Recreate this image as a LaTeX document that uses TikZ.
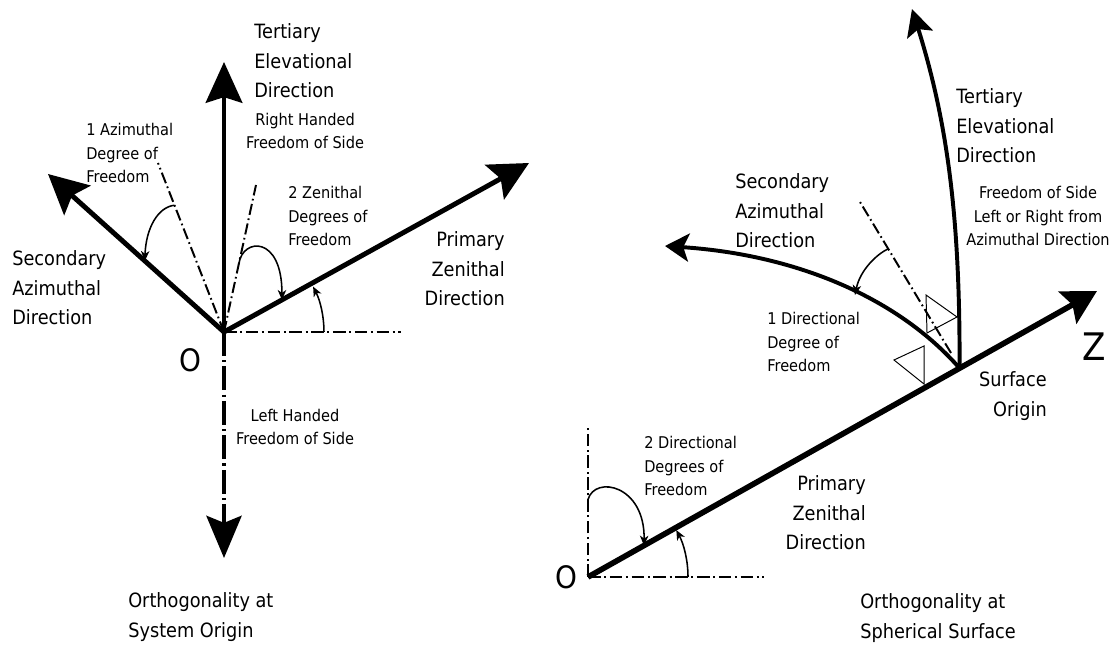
\documentclass[tikz,border=0pt]{standalone}
\usepackage{fontspec}
\setmainfont{DejaVu Sans}[FakeStretch=0.9]
\usetikzlibrary{arrows.meta,positioning}

\begin{document}
\begin{tikzpicture}[x=0.025cm, y=-0.025cm, every node/.style={inner sep=0pt},
  biglbl/.style={font=\fontsize{14}{21}\selectfont, align=left},
  smalllbl/.style={font=\fontsize{11.5}{16.8}\selectfont, align=left},
  originlbl/.style={font=\fontsize{22}{22}\selectfont},
  mainaxis/.style={line width=3.5pt, -{Stealth[length=28pt,width=28pt,inset=5pt]}},
  bentaxis/.style={line width=2.8pt, -{Stealth[length=19pt,width=19pt,inset=4pt]}},
  refline/.style={line width=2pt, dash pattern=on 9pt off 2.5pt on 1.5pt off 2.5pt},
  freeline/.style={line width=1.4pt, dash pattern=on 8pt off 2.5pt on 1.2pt off 2.5pt},
  dofarrow/.style={line width=1.1pt, -{Stealth[length=7pt,width=6pt,inset=2pt]}},
  marker/.style={line width=0.7pt}]
  \useasboundingbox (0,0) rectangle (1117,648);

  % system origin
  \coordinate (o1) at (224,332);
  \coordinate (tert1) at (224,62);
  \coordinate (prim1) at (529,163);
  \coordinate (sec1) at (48,174);
  \coordinate (hor1) at (401,332);
  \coordinate (down1) at (224,558);
  \coordinate (az1) at (158,163);
  \coordinate (zen1) at (256,185);

  \draw[refline] (o1) -- (hor1);
  \draw[line width=2.8pt, dash pattern=on 17pt off 3pt on 1.5pt off 3pt,
    -{Stealth[length=30pt,width=25pt,inset=5pt]}] (o1) -- (down1);
  \draw[freeline] (o1) -- (az1);
  \draw[freeline] (o1) -- (zen1);
  \draw[mainaxis, line width=3pt, -{Stealth[length=29pt,width=26pt,inset=4pt]}] (o1) -- (tert1);
  \draw[mainaxis] (o1) -- (prim1);
  \draw[mainaxis] (o1) -- (sec1);

  \path (o1) -- (az1) coordinate[pos=0.75] (az1s);
  \path (o1) -- (sec1) coordinate[pos=0.45] (sec1s);
  \path (o1) -- (zen1) coordinate[pos=0.47] (zen1s);
  \path (o1) -- (prim1) coordinate[pos=0.19] (prim1s);
  \draw[dofarrow] (az1s) .. controls (158,207) and (146,228) .. (sec1s);
  \draw[dofarrow] (zen1s) .. controls (243,238) and (282,235) .. (prim1s);
  \draw[dofarrow] (o1) ++(100,0) arc[start angle=0, end angle=-27, radius=100];

  \node[biglbl, anchor=west] (tert1lbl) at (254,61) {Tertiary\\Elevational\\Direction};
  \node[smalllbl, align=center] (rh1lbl) at (305,131) {Right Handed\\Freedom of Side};
  \node[smalllbl, anchor=west] (az1lbl) at (86,153) {1 Azimuthal\\Degree of\\Freedom};
  \node[smalllbl, anchor=west] (zen1lbl) at (288,216) {2 Zenithal\\Degrees of\\Freedom};
  \node[biglbl, anchor=east, align=right] (prim1lbl) at (505,269) {Primary\\Zenithal\\Direction};
  \node[biglbl, anchor=west] (sec1lbl) at (12,288) {Secondary\\Azimuthal\\Direction};
  \node[originlbl] (o1lbl) at (190,360) {O};
  \node[smalllbl, align=center] (lh1lbl) at (295,427) {Left Handed\\Freedom of Side};
  \node[biglbl, anchor=west] (orth1lbl) at (128,617) {Orthogonality at\\System Origin};

  % spherical surface
  \coordinate (o2) at (588,577);
  \coordinate (z2) at (1097,291);
  \coordinate (v2) at (588,428);
  \coordinate (hor2) at (764,577);
  \path (o2) -- (z2) coordinate[pos=0.73] (s2);
  \coordinate (tert2) at (912,9);
  \coordinate (sec2) at (665,246);
  \coordinate (az2a) at (951,353);
  \coordinate (az2b) at (860,202);

  \draw[refline, line width=1.8pt] (o2) -- (v2);
  \draw[refline, line width=1.8pt] (o2) -- (hor2);
  \draw[mainaxis, line width=4pt, -{Stealth[length=24pt,width=26pt,inset=4pt]}] (o2) -- (z2);
  \draw[bentaxis] (s2) .. controls (960,230) and (950,130) .. (tert2);
  \draw[bentaxis, -{Stealth[length=17pt,width=20pt,inset=4pt]}] (s2) .. controls (900,300) and (800,255) .. (sec2);
  \draw[freeline] (az2a) -- (az2b);
  \draw[marker] (926,295) -- (957,317) -- (927,333) -- cycle;
  \draw[marker] (894,360) -- (924,346) -- (924,384) -- cycle;

  \path (az2a) -- (az2b) coordinate[pos=0.69] (az2s);
  \path (o2) -- (v2) coordinate[pos=0.52] (v2s);
  \path (o2) -- (z2) coordinate[pos=0.11] (z2s);
  \draw[dofarrow] (az2s) .. controls (877,254) and (860,270) .. (855,295);
  \draw[dofarrow] (v2s) .. controls (595,475) and (645,485) .. (z2s);
  \draw[dofarrow] (o2) ++(100,0) arc[start angle=0, end angle=-28, radius=100];

  \node[biglbl, anchor=west] (tert2lbl) at (956,126) {Tertiary\\Elevational\\Direction};
  \node[smalllbl, align=center] (fs2lbl) at (1038,216) {Freedom of Side\\Left or Right from\\Azimuthal Direction};
  \node[biglbl, anchor=west] (sec2lbl) at (735,211) {Secondary\\Azimuthal\\Direction};
  \node[smalllbl, anchor=west] (dir1lbl) at (767,342) {1 Directional\\Degree of\\Freedom};
  \node[font=\fontsize{27}{27}\selectfont] (z2lbl) at (1094,347) {Z};
  \node[biglbl, anchor=east, align=right] (surflbl) at (1047,396) {Surface\\Origin};
  \node[smalllbl, anchor=west] (dir2lbl) at (644,466) {2 Directional\\Degrees of\\Freedom};
  \node[biglbl, anchor=east, align=right] (prim2lbl) at (866,513) {Primary\\Zenithal\\Direction};
  \node[originlbl] (o2lbl) at (566,577) {O};
  \node[biglbl, anchor=west] (orth2lbl) at (860,618) {Orthogonality at\\Spherical Surface};
\end{tikzpicture}
\end{document}
